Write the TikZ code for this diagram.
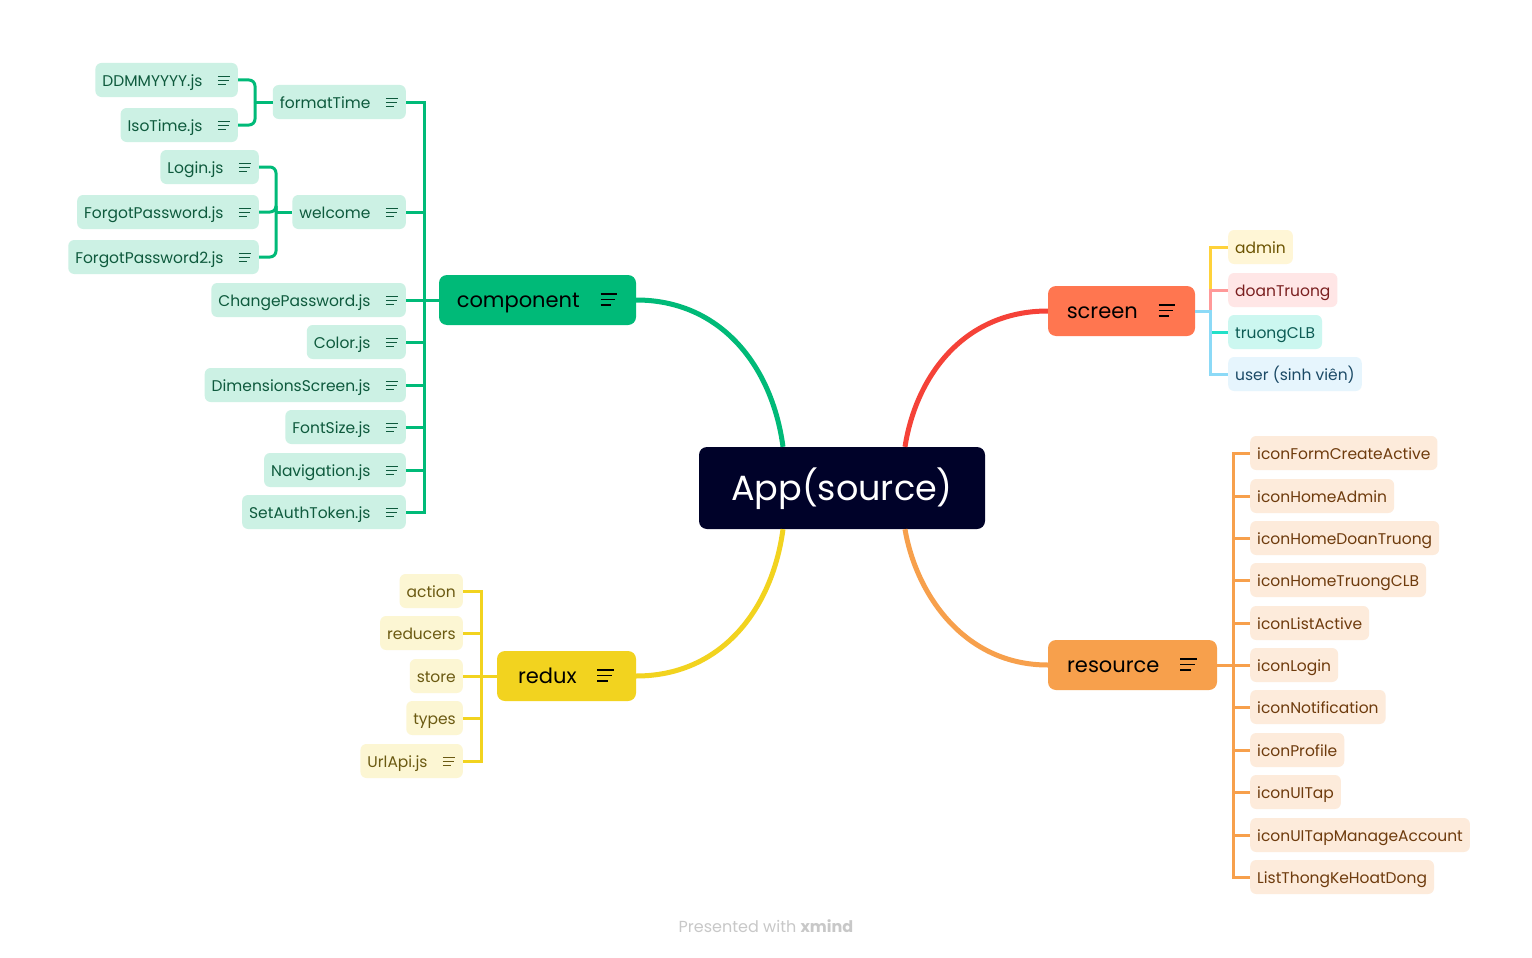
\documentclass[tikz,border=0pt]{standalone}
\usepackage{fontspec}
\setmainfont{Poppins}
\usetikzlibrary{positioning}

\definecolor{appbg}{RGB}{0,2,41}
\definecolor{compmain}{RGB}{0,186,120}
\definecolor{compleaf}{RGB}{204,241,228}
\definecolor{comptext}{RGB}{14,90,61}
\definecolor{scrmain}{RGB}{255,118,80}
\definecolor{scrline}{RGB}{245,66,56}
\definecolor{resmain}{RGB}{247,160,76}
\definecolor{resleaf}{RGB}{253,235,219}
\definecolor{restext}{RGB}{110,59,13}
\definecolor{redmain}{RGB}{242,211,31}
\definecolor{redleaf}{RGB}{252,246,211}
\definecolor{redtext}{RGB}{107,90,18}
\definecolor{adminfill}{RGB}{255,246,214}
\definecolor{adminline}{RGB}{255,210,58}
\definecolor{admintext}{RGB}{107,83,0}
\definecolor{doanfill}{RGB}{255,230,230}
\definecolor{doanline}{RGB}{255,153,153}
\definecolor{doantext}{RGB}{122,31,31}
\definecolor{clbfill}{RGB}{204,247,240}
\definecolor{clbline}{RGB}{32,224,200}
\definecolor{clbtext}{RGB}{13,92,85}
\definecolor{userfill}{RGB}{230,245,253}
\definecolor{userline}{RGB}{140,218,247}
\definecolor{usertext}{RGB}{27,74,102}
\definecolor{footgray}{RGB}{200,200,200}

% 备注图标
\newcommand\noteicon[1]{\hspace{0.95em}\tikz[baseline={(0,-0.62em)}]{\draw[#1,line width=0.08em]
  (0,0) -- (0.8em,0) (0,-0.27em) -- (0.7em,-0.27em) (0,-0.54em) -- (0.5em,-0.54em);}}

\tikzset{
  box/.style={rounded corners=6pt, inner xsep=7pt, inner ysep=0pt, minimum height=34pt,
    text height=14pt, text depth=2pt, font=\fontsize{15.5}{18}\selectfont},
  mainbox/.style={rounded corners=8pt, inner xsep=0pt, minimum height=50pt,
    text height=16pt, text depth=2pt, font=\fontsize{21}{24}\selectfont, text=black},
  cleaf/.style={box, fill=compleaf, text=comptext},
  xleaf/.style={box, fill=redleaf, text=redtext},
  rleaf/.style={box, fill=resleaf, text=restext},
  cline/.style={draw=compmain, line width=3pt},
  xline/.style={draw=redmain, line width=3pt},
  rline/.style={draw=resmain, line width=3pt},
  trunk/.style={line width=5pt},
}

\begin{document}
\begin{tikzpicture}[x=1pt,y=-1pt]
\useasboundingbox (0,0) rectangle (1532,958);
\fill[white] (0,0) rectangle (1532,958);

% 中心主题
\node[rounded corners=8pt, fill=appbg, text=white, minimum width=286pt, minimum height=82pt,
  text height=30pt, text depth=6pt, font=\fontsize{35}{40}\selectfont] (app) at (842,488) {App(source)};
\coordinate (appNW) at ([xshift=-59pt]app.north);
\coordinate (appNE) at ([xshift=63pt]app.north);
\coordinate (appSW) at ([xshift=-59pt]app.south);
\coordinate (appSE) at ([xshift=63pt]app.south);

% 分支主题
\node[mainbox, fill=compmain, minimum width=197pt] (comp) at (537.5,300) {component\noteicon{black}};
\node[mainbox, fill=scrmain, minimum width=147pt] (screen) at (1121.5,311) {screen\noteicon{black}};
\node[mainbox, fill=redmain, minimum width=139pt] (redux) at (566.5,676) {redux\noteicon{black}};
\node[mainbox, fill=resmain, minimum width=169pt] (res) at (1132.5,665) {resource\noteicon{black}};

\draw[trunk, compmain] (comp.east) .. controls (720,300) and (772,365) .. (appNW);
\draw[trunk, redmain] (redux.east) .. controls (720,676) and (772,611) .. (appSW);
\draw[trunk, scrline] (screen.west) .. controls (964,311) and (916,376) .. (appNE);
\draw[trunk, resmain] (res.west) .. controls (964,665) and (916,594) .. (appSE);

% component
\node[cleaf, anchor=east] (ftime) at (406,102) {formatTime\noteicon{comptext}};
\node[cleaf, anchor=east] (welc) at (406,212) {welcome\noteicon{comptext}};
\node[cleaf, anchor=east] (chpw) at (406,300) {ChangePassword.js\noteicon{comptext}};
\node[cleaf, anchor=east] (color) at (406,342) {Color.js\noteicon{comptext}};
\node[cleaf, anchor=east] (dims) at (406,385) {DimensionsScreen.js\noteicon{comptext}};
\node[cleaf, anchor=east] (fsize) at (406,427) {FontSize.js\noteicon{comptext}};
\node[cleaf, anchor=east] (nav) at (406,470) {Navigation.js\noteicon{comptext}};
\node[cleaf, anchor=east] (auth) at (406,512) {SetAuthToken.js\noteicon{comptext}};
\node[cleaf, anchor=east] (ddmm) at (238,80) {DDMMYYYY.js\noteicon{comptext}};
\node[cleaf, anchor=east] (iso) at (238,125) {IsoTime.js\noteicon{comptext}};
\node[cleaf, anchor=east] (login) at (259,167) {Login.js\noteicon{comptext}};
\node[cleaf, anchor=east] (fpw) at (259,212) {ForgotPassword.js\noteicon{comptext}};
\node[cleaf, anchor=east] (fpw2) at (259,257) {ForgotPassword2.js\noteicon{comptext}};

\coordinate (cspine) at (424,300);
\draw[cline] (comp.west) -- (cspine);
\foreach \c in {ftime,welc,chpw,color,dims,fsize,nav,auth}
  \draw[cline] (cspine) |- (\c.east);
\coordinate (fspine) at (255,102);
\draw[cline] (ftime.west) -- (fspine);
\foreach \c in {ddmm,iso}
  \draw[cline, rounded corners=6pt] (fspine) |- (\c.east);
\coordinate (wspine) at (276,212);
\draw[cline] (welc.west) -- (wspine);
\foreach \c in {login,fpw,fpw2}
  \draw[cline, rounded corners=6pt] (wspine) |- (\c.east);

% redux
\node[xleaf, anchor=east] (action) at (463,591) {action};
\node[xleaf, anchor=east] (reduc) at (463,633) {reducers};
\node[xleaf, anchor=east] (store) at (463,676) {store};
\node[xleaf, anchor=east] (types) at (463,718) {types};
\node[xleaf, anchor=east] (urlapi) at (463,761) {UrlApi.js\noteicon{redtext}};
\coordinate (xspine) at (481,676);
\draw[xline] (redux.west) -- (xspine);
\foreach \c in {action,reduc,store,types,urlapi}
  \draw[xline] (xspine) |- (\c.east);

% screen
\node[box, anchor=west, fill=adminfill, text=admintext] (admin) at (1228,247) {admin};
\node[box, anchor=west, fill=doanfill, text=doantext] (doan) at (1228,290) {doanTruong};
\node[box, anchor=west, fill=clbfill, text=clbtext] (clb) at (1228,332) {truongCLB};
\node[box, anchor=west, fill=userfill, text=usertext] (user) at (1228,374) {user (sinh viên)};
\coordinate (sspine) at (1210,311);
\draw[line width=3pt, adminline] (screen.east) -- (sspine) |- (admin.west);
\draw[line width=3pt, doanline] (screen.east) -- (sspine) |- (doan.west);
\draw[line width=3pt, clbline] (screen.east) -- (sspine) |- (clb.west);
\draw[line width=3pt, userline] (screen.east) -- (sspine) |- (user.west);

% resource
\node[rleaf, anchor=west] (r1) at (1250,453) {iconFormCreateActive};
\node[rleaf, anchor=west] (r2) at (1250,496) {iconHomeAdmin};
\node[rleaf, anchor=west] (r3) at (1250,538) {iconHomeDoanTruong};
\node[rleaf, anchor=west] (r4) at (1250,580) {iconHomeTruongCLB};
\node[rleaf, anchor=west] (r5) at (1250,623) {iconListActive};
\node[rleaf, anchor=west] (r6) at (1250,665) {iconLogin};
\node[rleaf, anchor=west] (r7) at (1250,707) {iconNotification};
\node[rleaf, anchor=west] (r8) at (1250,750) {iconProfile};
\node[rleaf, anchor=west] (r9) at (1250,792) {iconUITap};
\node[rleaf, anchor=west] (r10) at (1250,835) {iconUITapManageAccount};
\node[rleaf, anchor=west] (r11) at (1250,877) {ListThongKeHoatDong};
\coordinate (rspine) at (1233,665);
\draw[rline] (res.east) -- (rspine);
\foreach \c in {r1,r2,r3,r4,r5,r6,r7,r8,r9,r10,r11}
  \draw[rline] (rspine) |- (\c.west);

\node[text=footgray, font=\fontsize{16}{18}\selectfont] (foot) at (766,926) {Presented with \textbf{xmind}};
\end{tikzpicture}
\end{document}
